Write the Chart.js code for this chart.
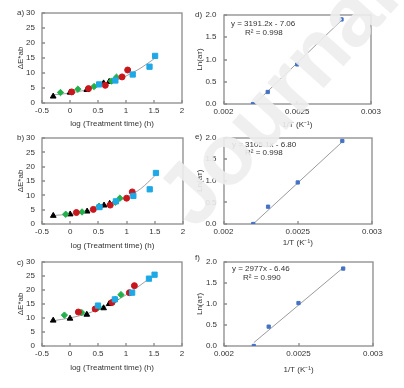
<!DOCTYPE html>
<html>
<head>
<meta charset="utf-8">
<script src="https://cdn.jsdelivr.net/npm/chart.js"></script>
<style>
  body { margin: 0; background: #fff; width: 404px; height: 388px; position: relative; overflow: hidden;
         font-family: Arial, "Liberation Sans", sans-serif; }
  .panel { position: absolute; }
  .lbl { position: absolute; font-size: 8px; line-height: 10px; color: #333; white-space: nowrap; transform: translateY(-50%); }
  #wm { position: absolute; left: 0; top: 0; pointer-events: none; z-index: 10; }
</style>
</head>
<body>
<div class="panel" id="pa"><canvas></canvas></div>
<div class="panel" id="pb"><canvas></canvas></div>
<div class="panel" id="pc"><canvas></canvas></div>
<div class="panel" id="pd"><canvas></canvas></div>
<div class="panel" id="pe"><canvas></canvas></div>
<div class="panel" id="pf"><canvas></canvas></div>

<div class="lbl" style="left:17px;top:13px">a)</div>
<div class="lbl" style="left:17px;top:138px">b)</div>
<div class="lbl" style="left:17px;top:263px">c)</div>
<div class="lbl" style="left:195px;top:15px">d)</div>
<div class="lbl" style="left:195px;top:137px">e)</div>
<div class="lbl" style="left:195px;top:258px">f)</div>

<div class="lbl" style="left:231px;top:24px">y = 3191.2x - 7.06</div>
<div class="lbl" style="left:245px;top:33px">R² = 0.998</div>
<div class="lbl" style="left:232px;top:145px">y = 3105.1x - 6.80</div>
<div class="lbl" style="left:245px;top:153px">R² = 0.998</div>
<div class="lbl" style="left:232px;top:269px">y = 2977x - 6.46</div>
<div class="lbl" style="left:243px;top:278px">R² = 0.990</div>

<canvas id="wm" width="404" height="388"></canvas>

<script>
// tick values / labels
const logTicks = [-0.5, 0, 0.5, 1, 1.5, 2];
const logLabels = ["-0.5", "0", "0.5", "1", "1.5", "2"];
const deTicks = [0, 5, 10, 15, 20, 25, 30];
const deLabels = ["0", "5", "10", "15", "20", "25", "30"];
const invTTicks = [0.002, 0.0025, 0.003];
const invTLabels = ["0.002", "0.0025", "0.003"];
const lnTicks = [0, 0.5, 1, 1.5, 2];
const lnLabels = ["0.0", "0.5", "1.0", "1.5", "2.0"];

// a)
const aTriX = [-0.3, 0.0, 0.3, 0.6, 0.7];
const aTriY = [2.2, 3.5, 4.4, 6.6, 7.1];
const aDiaX = [-0.17, 0.14, 0.43, 0.74, 0.83];
const aDiaY = [3.5, 4.6, 5.5, 7.3, 8.6];
const aCirX = [0.03, 0.33, 0.63, 0.93, 1.03];
const aCirY = [3.7, 4.8, 5.9, 8.7, 11.0];
const aSqX = [0.52, 0.81, 1.12, 1.42, 1.52];
const aSqY = [6.2, 7.5, 9.5, 12.1, 15.7];
const aFitX = [-0.3, 0, 0.25, 0.5, 0.75, 1, 1.25, 1.5];
const aFitY = [2.7, 3.3, 4.2, 5.5, 7.0, 9.0, 11.5, 14.7];

// b)
const bTriX = [-0.3, 0.0, 0.3, 0.6, 0.7];
const bTriY = [2.9, 3.4, 4.4, 6.5, 7.1];
const bDiaX = [-0.08, 0.21, 0.51, 0.8, 0.88];
const bDiaY = [3.4, 4.2, 6.2, 7.6, 9.0];
const bCirX = [0.11, 0.41, 0.71, 1.0, 1.1];
const bCirY = [4.0, 5.1, 6.6, 9.0, 11.2];
const bSqX = [0.52, 0.81, 1.12, 1.41, 1.52];
const bSqY = [5.9, 7.9, 9.8, 12.1, 17.8];
const bFitX = [-0.3, 0, 0.25, 0.5, 0.75, 1, 1.25, 1.5];
const bFitY = [3.0, 3.4, 4.2, 5.4, 7.1, 9.3, 12.3, 16.8];

// c)
const cTriX = [-0.3, 0.0, 0.3, 0.6, 0.7];
const cTriY = [9.1, 9.8, 11.2, 13.5, 15.0];
const cDiaX = [-0.1, 0.21, 0.51, 0.81, 0.91];
const cDiaY = [11.0, 11.9, 13.8, 16.6, 18.3];
const cCirX = [0.15, 0.45, 0.75, 1.06, 1.15];
const cCirY = [12.1, 13.2, 15.5, 19.0, 21.5];
const cSqX = [0.5, 0.8, 1.11, 1.41, 1.51];
const cSqY = [14.4, 16.6, 19.0, 24.0, 25.4];
const cFitX = [-0.3, 0, 0.25, 0.5, 0.75, 1, 1.25, 1.5];
const cFitY = [9.0, 10.0, 11.2, 13.0, 15.3, 18.2, 21.6, 25.3];

// d) e) f)
const invT = [0.0022, 0.0023, 0.0025, 0.0028];
const dLnA = [0.0, 0.27, 0.89, 1.9];
const eLnA = [0.0, 0.40, 0.96, 1.92];
const fLnA = [0.0, 0.46, 1.02, 1.84];
const dFitX = [0.00221, 0.0028], dFitY = [0.0, 1.88];
const eFitX = [0.0022, 0.0028], eFitY = [0.0, 1.90];
const fFitX = [0.0022, 0.0028], fFitY = [0.08, 1.86];

Chart.defaults.font.family = 'Arial, "Liberation Sans", sans-serif';
Chart.defaults.font.size = 8;
Chart.defaults.color = "#333";

const pts = (xs, ys) => xs.map((x, i) => ({ x, y: ys[i] }));

// grey box round the plot + short inward ticks
const framePlugin = {
  id: "frame",
  beforeDatasetsDraw(chart) {
    const { ctx, chartArea: a, scales } = chart;
    const l = Math.round(a.left), t = Math.round(a.top);
    const r = Math.round(a.right), b = Math.round(a.bottom);
    ctx.save();
    ctx.strokeStyle = "#8a8a8a";
    ctx.lineWidth = 1.3;
    ctx.strokeRect(l, t, r - l, b - t);
    ctx.beginPath();
    scales.x.ticks.forEach((tk) => {
      const p = Math.round(scales.x.getPixelForValue(tk.value));
      ctx.moveTo(p, b);
      ctx.lineTo(p, b - 3);
    });
    scales.y.ticks.forEach((tk) => {
      const p = Math.round(scales.y.getPixelForValue(tk.value));
      ctx.moveTo(l, p);
      ctx.lineTo(l + 3, p);
    });
    ctx.stroke();
    ctx.restore();
  },
};

function colorSets(sqX, sqY, cirX, cirY, diaX, diaY, triX, triY, fitX, fitY) {
  return [
    { data: pts(sqX, sqY), pointStyle: "rect", pointRadius: 3.7, backgroundColor: "#1ea8e6", borderColor: "#1ea8e6" },
    { data: pts(cirX, cirY), pointStyle: "circle", pointRadius: 3, backgroundColor: "#c8161d", borderColor: "#c8161d" },
    { data: pts(diaX, diaY), pointStyle: "rectRot", pointRadius: 3.2, backgroundColor: "#22b04b", borderColor: "#22b04b" },
    { data: pts(triX, triY), pointStyle: "triangle", pointRadius: 3.3, backgroundColor: "#000", borderColor: "#000" },
    { data: pts(fitX, fitY), showLine: true, pointRadius: 0, borderColor: "#a0a0a0", borderWidth: 1,
      tension: 0.4, cubicInterpolationMode: "monotone" },
  ];
}

function arrSets(lnA, fitX, fitY) {
  return [
    { data: pts(invT, lnA), pointStyle: "rect", pointRadius: 2.3, backgroundColor: "#4472c4", borderColor: "#4472c4" },
    { data: pts(fitX, fitY), showLine: true, pointRadius: 0, borderColor: "#9a9a9a", borderWidth: 1 },
  ];
}

function panel(id, box, plot, datasets, xs, ys) {
  const wrap = document.getElementById(id);
  Object.assign(wrap.style, { left: box.x + "px", top: box.y + "px", width: box.w + "px", height: box.h + "px" });
  new Chart(wrap.querySelector("canvas"), {
    type: "scatter",
    data: { datasets },
    options: {
      responsive: true,
      maintainAspectRatio: false,
      animation: false,
      layout: { padding: { left: 0, top: plot.t - box.y, right: box.x + box.w - plot.r, bottom: 0 } },
      plugins: { legend: { display: false }, tooltip: { enabled: false } },
      scales: {
        x: {
          type: "linear", min: xs.ticks[0], max: xs.ticks[xs.ticks.length - 1],
          grid: { display: false, drawTicks: false }, border: { display: false },
          afterBuildTicks: (s) => { s.ticks = xs.ticks.map((v) => ({ value: v })); },
          afterFit: (s) => { s.height = box.y + box.h - plot.b; },
          ticks: { padding: 3, maxRotation: 0, autoSkip: false, callback: (v, i) => xs.labels[i] },
          title: { display: true, text: xs.title, padding: { top: 0, bottom: 1 } },
        },
        y: {
          type: "linear", min: ys.ticks[0], max: ys.ticks[ys.ticks.length - 1],
          grid: { display: false, drawTicks: false }, border: { display: false },
          afterBuildTicks: (s) => { s.ticks = ys.ticks.map((v) => ({ value: v })); },
          afterFit: (s) => { s.width = plot.l - box.x; },
          ticks: { padding: 7, autoSkip: false, callback: (v, i) => ys.labels[i] },
          title: { display: true, text: ys.title, padding: { top: ys.titlePad, bottom: 0 } },
        },
      },
    },
    plugins: [framePlugin],
  });
}

const xLog = { ticks: logTicks, labels: logLabels, title: "log (Treatment time) (h)" };
const yDE = { ticks: deTicks, labels: deLabels, title: "ΔE*ab", titlePad: 16 };
const xInv = { ticks: invTTicks, labels: invTLabels, title: "1/T (K⁻¹)" };
const yLn = { ticks: lnTicks, labels: lnLabels, title: "Ln(aᴛ)", titlePad: 7 };

panel("pa", { x: 0, y: 0, w: 195, h: 130 }, { l: 42, t: 13, r: 182, b: 103 },
  colorSets(aSqX, aSqY, aCirX, aCirY, aDiaX, aDiaY, aTriX, aTriY, aFitX, aFitY), xLog, yDE);
panel("pb", { x: 0, y: 125, w: 197, h: 127 }, { l: 42, t: 138, r: 183, b: 224 },
  colorSets(bSqX, bSqY, bCirX, bCirY, bDiaX, bDiaY, bTriX, bTriY, bFitX, bFitY), xLog, yDE);
panel("pc", { x: 0, y: 250, w: 195, h: 124 }, { l: 42, t: 259, r: 182, b: 346 },
  colorSets(cSqX, cSqY, cCirX, cCirY, cDiaX, cDiaY, cTriX, cTriY, cFitX, cFitY), xLog, yDE);
panel("pd", { x: 188, y: 0, w: 216, h: 131 }, { l: 223.5, t: 15, r: 371, b: 104 },
  arrSets(dLnA, dFitX, dFitY), xInv, yLn);
panel("pe", { x: 188, y: 125, w: 216, h: 124 }, { l: 223.5, t: 137.5, r: 372, b: 224 },
  arrSets(eLnA, eFitX, eFitY), xInv, yLn);
panel("pf", { x: 188, y: 250, w: 216, h: 126 }, { l: 224, t: 259, r: 373, b: 346 },
  arrSets(fLnA, fFitX, fFitY), xInv, yLn);

// watermark
const wm = document.getElementById("wm").getContext("2d");
wm.save();
wm.translate(195, 231);
wm.rotate(-48 * Math.PI / 180);
wm.font = 'bold 86px Arial, "Liberation Sans", sans-serif';
wm.fillStyle = "rgba(237,237,237,0.9)";
wm.fillText("Journal Pre-proof", 0, 0);
wm.restore();
</script>
</body>
</html>
